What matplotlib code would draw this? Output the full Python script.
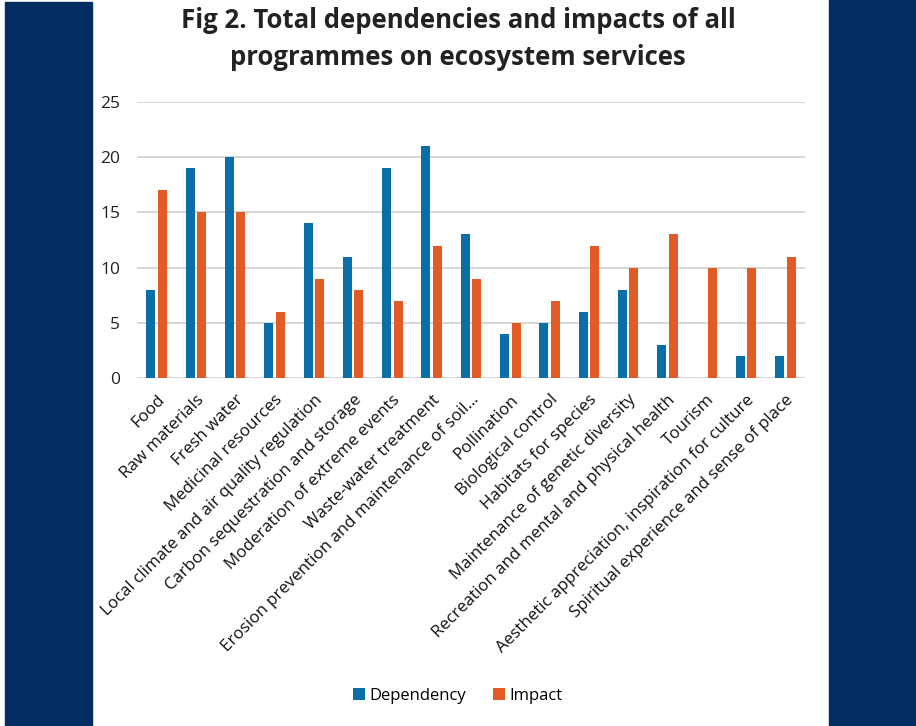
import matplotlib
matplotlib.use("Agg")
import matplotlib.pyplot as plt
import numpy as np
from matplotlib.patches import Rectangle

categories = [
    "Food", "Raw materials", "Fresh water", "Medicinal resources",
    "Local climate and air quality regulation", "Carbon sequestration and storage",
    "Moderation of extreme events", "Waste-water treatment",
    "Erosion prevention and maintenance of soil\u2026", "Pollination",
    "Biological control", "Habitats for species", "Maintenance of genetic diversity",
    "Recreation and mental and physical health", "Tourism",
    "Aesthetic appreciation, inspiration for culture",
    "Spiritual experience and sense of place",
]
dependency = [8, 19, 20, 5, 14, 11, 19, 21, 13, 4, 5, 6, 8, 3, 0, 2, 2]
impact = [17, 15, 15, 6, 9, 8, 7, 12, 9, 5, 7, 12, 10, 13, 10, 10, 11]
series_names = ["Dependency", "Impact"]

BLUE = "#0A6EA8"
ORANGE = "#E05B25"
NAVY = "#032C61"

plt.rcParams["font.family"] = ["Open Sans", "DejaVu Sans"]

fig = plt.figure(figsize=(9.16, 7.26), dpi=100)
# side bands
fig.patches.append(Rectangle((5 / 916, 0), 87 / 916, 1 - 2 / 726, transform=fig.transFigure,
                             color=NAVY, zorder=0))
fig.patches.append(Rectangle((829 / 916, 0), 87 / 916, 1, transform=fig.transFigure,
                             color=NAVY, zorder=0))

ax = fig.add_axes([137 / 916, 1 - 378 / 726, 668 / 916, 276 / 726])
x = np.arange(len(categories))
w = 0.23
ax.bar(x - 0.146, dependency, w, color=BLUE, label=series_names[0], zorder=3)
ax.bar(x + 0.146, impact, w, color=ORANGE, label=series_names[1], zorder=3)

ax.set_xlim(-0.5, len(categories) - 0.5)
ax.set_ylim(0, 25)
ax.set_yticks(range(0, 26, 5))
ax.yaxis.grid(True, color="#D0D0D0", linewidth=1.2)
ax.set_axisbelow(True)
for s in ax.spines.values():
    s.set_visible(False)
ax.tick_params(axis="both", length=0, labelsize=12.5, colors="#222222")
ax.tick_params(axis="y", pad=12)
ax.set_xticks(x)
ax.set_xticklabels(categories, rotation=45, ha="right", rotation_mode="anchor",
                   fontsize=12.2, color="#111111")
ax.tick_params(axis="x", pad=10)

fig.text(0.5, 1 - 39 / 726, "Fig 2. Total dependencies and impacts of all\nprogrammes on ecosystem services",
         ha="center", va="center", fontsize=18.5, fontweight="bold", color="#222222",
         linespacing=1.45)

fig.legend(loc="center", bbox_to_anchor=(0.5, 1 - 696 / 726), ncol=2, frameon=False,
           fontsize=12, handlelength=0.7, handleheight=0.7, handletextpad=0.3,
           columnspacing=1.6)

fig.savefig("out.png", dpi=100)
